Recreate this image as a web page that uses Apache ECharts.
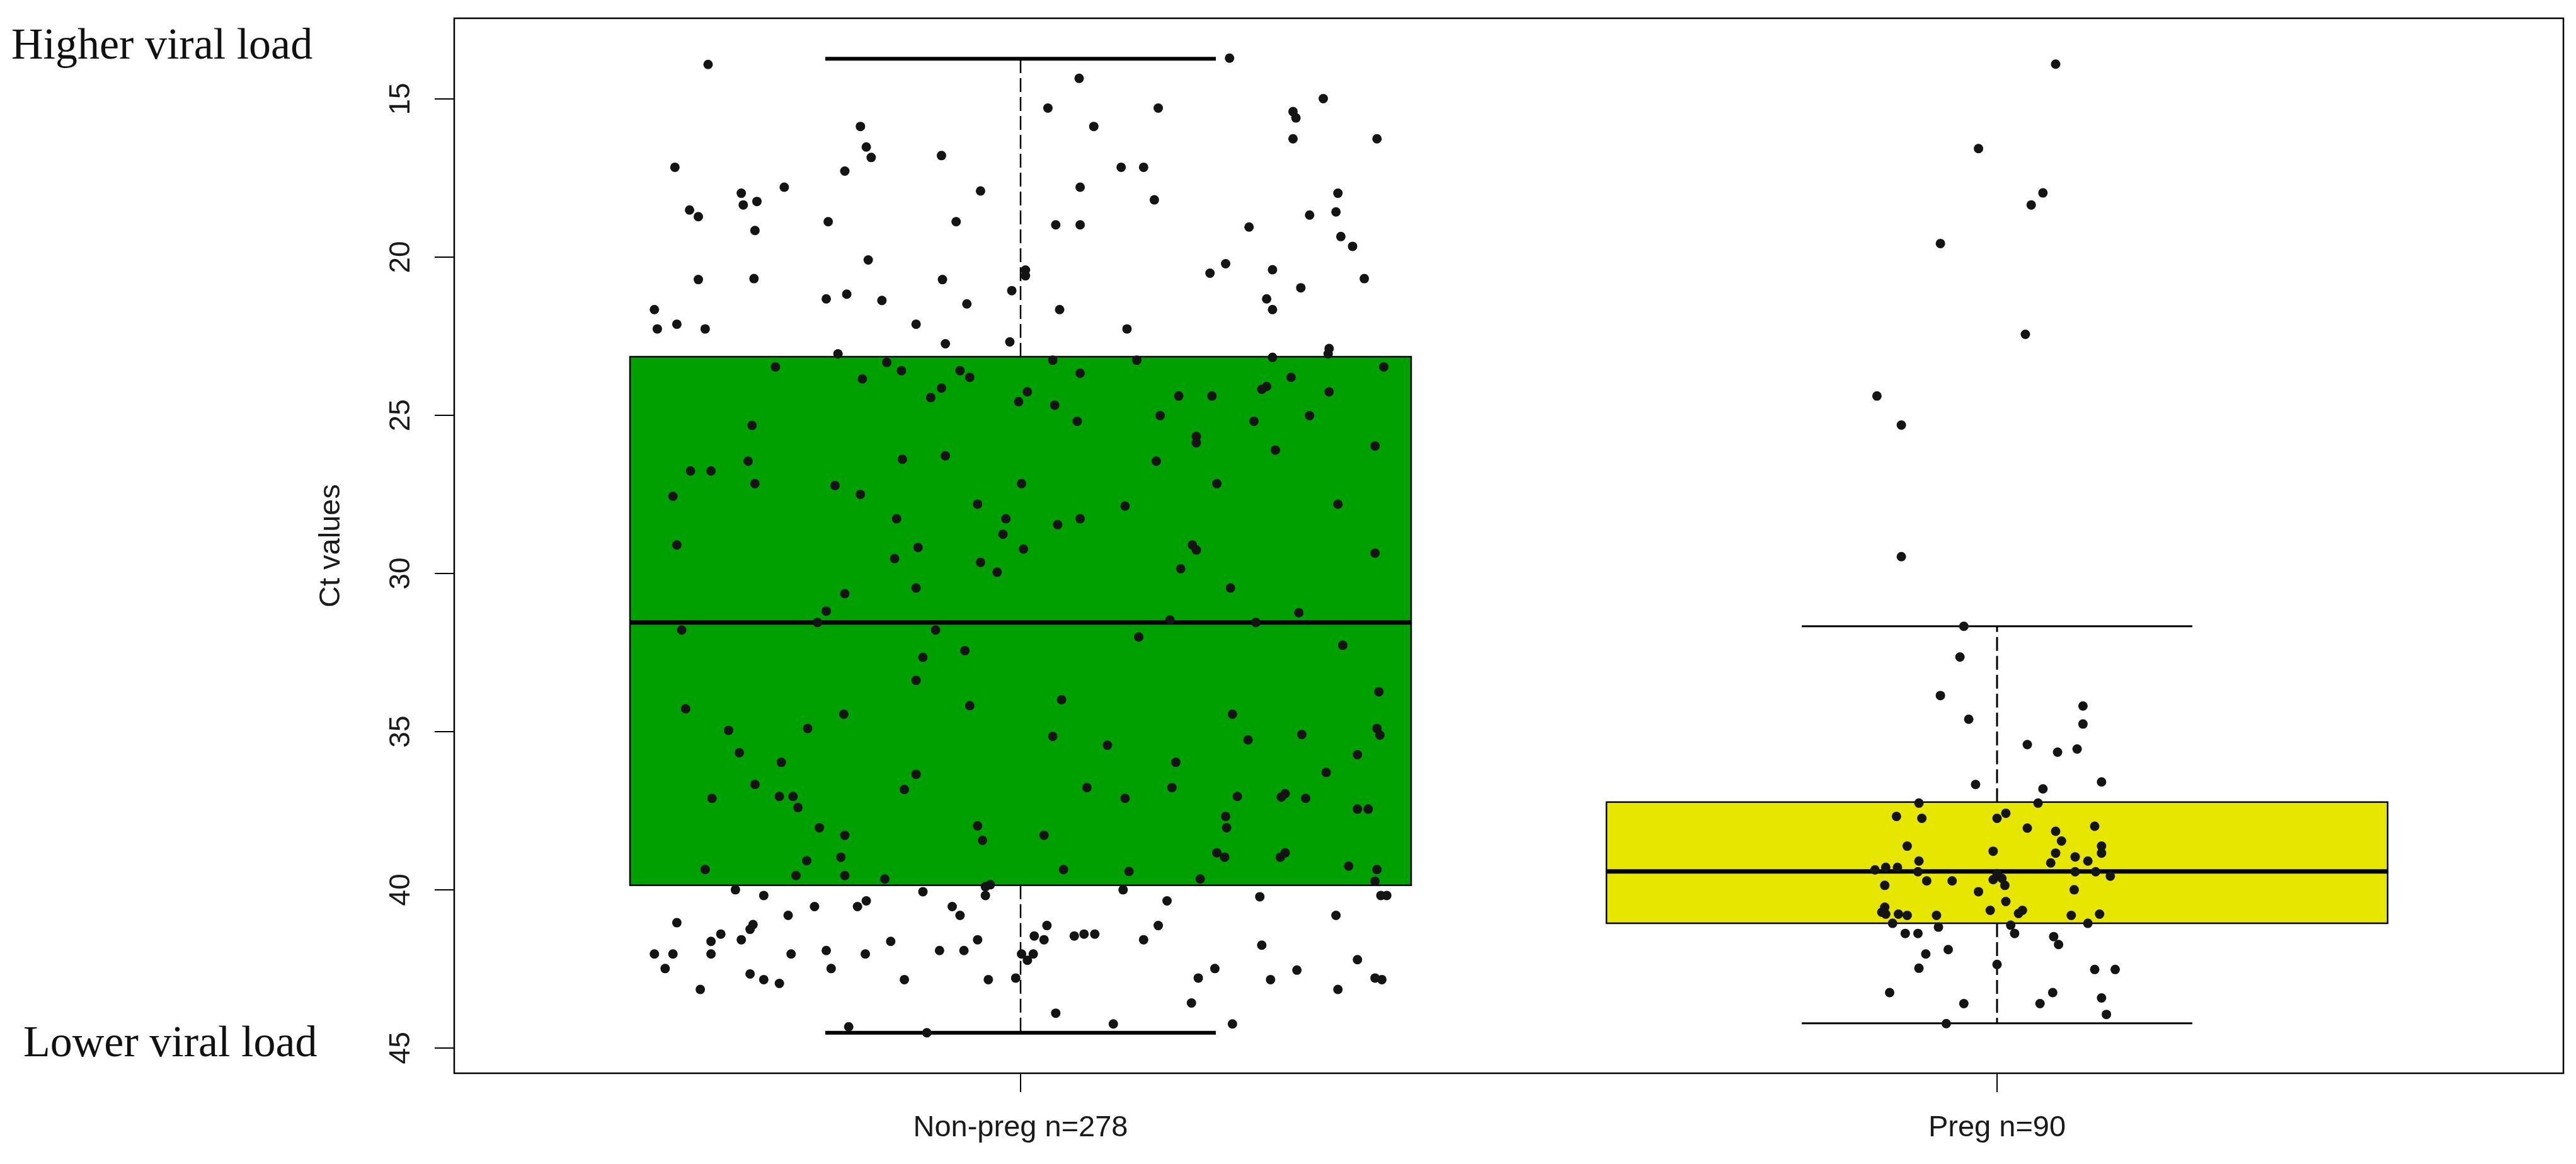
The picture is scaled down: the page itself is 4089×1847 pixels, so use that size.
<!DOCTYPE html>
<html>
<head>
<meta charset="utf-8">
<script src="https://cdn.jsdelivr.net/npm/echarts@6/dist/echarts.min.js"></script>
<style>
  html, body { margin: 0; padding: 0; background: #ffffff; }
  #chart { width: 4089px; height: 1847px; }
</style>
</head>
<body>
<div id="chart"></div>
<script>
// ---------------- DATA ----------------
const categories = ['Non-preg n=278', 'Preg n=90'];
const groupPositions = [1, 2];
const yTickValues = [15, 20, 25, 30, 35, 40, 45];

// box statistics (Ct values): lower whisker end (top), Q1, median, Q3, upper whisker end (bottom)
const whiskerLow = [13.73, 31.67];
const quartile1 = [23.15, 37.23];
const medians = [31.55, 39.42];
const quartile3 = [39.86, 41.06];
const whiskerHigh = [44.52, 44.22];

// individual jittered points: Ct value and horizontal jitter (in group units)
const nonPregCt = [
13.91,13.71,14.35,15.29,15.29,14.99,15.40,15.60,15.87,15.87,
16.26,16.26,16.52,16.85,16.79,17.16,17.28,17.16,17.16,17.79,
17.91,17.79,17.98,18.24,18.35,18.19,17.98,18.51,18.72,18.67,
18.57,18.88,18.88,18.98,18.98,19.05,19.16,19.35,19.66,20.09,
20.21,20.41,20.59,20.51,20.40,20.71,20.68,20.71,20.68,21.06,
20.97,21.17,21.32,21.37,21.48,21.32,21.66,21.66,21.66,22.12,
22.27,22.27,22.12,22.27,22.74,22.68,23.06,22.89,23.06,23.17,
23.26,23.26,23.47,23.47,23.33,23.59,23.59,23.80,23.85,23.67,
23.80,24.14,24.09,24.18,24.44,24.26,24.57,24.39,24.39,24.26,
24.68,25.01,25.01,25.19,25.19,25.32,25.67,25.87,25.97,26.10,
26.28,26.39,26.45,26.45,26.76,26.76,27.16,27.22,27.16,27.16,
27.56,27.50,27.81,27.87,27.81,28.27,28.27,28.46,28.27,28.76,
29.10,29.18,29.23,29.10,29.26,29.36,29.53,29.65,29.96,29.85,
30.46,30.46,30.64,31.19,31.24,31.55,31.47,31.55,31.79,31.79,
32.01,32.27,32.44,32.65,33.38,33.74,33.99,34.28,34.18,34.45,
34.45,34.96,34.90,34.90,35.11,35.15,35.26,35.09,35.43,35.67,
35.73,35.97,35.97,36.29,36.35,36.67,36.83,36.77,36.77,37.11,
37.05,37.05,37.40,37.11,37.05,36.96,37.07,37.11,37.45,37.45,
37.68,38.04,38.04,38.28,37.98,38.44,38.28,38.83,38.97,38.83,
38.97,39.08,38.97,39.36,39.36,39.42,39.25,39.36,39.55,39.55,
39.66,39.66,39.73,39.84,39.90,40.00,40.18,40.06,40.18,40.00,
40.22,40.18,40.18,40.53,40.53,40.35,40.53,40.35,40.81,40.81,
40.81,41.04,41.10,41.25,41.13,41.13,41.40,41.63,41.58,41.63,
41.58,41.46,41.58,41.46,41.40,41.40,41.58,41.75,42.03,42.03,
42.03,42.03,41.92,42.03,41.92,41.92,42.03,42.03,42.23,42.21,
42.49,42.49,42.49,42.54,42.66,42.84,42.96,42.84,42.84,42.79,
42.79,42.84,42.79,42.84,43.15,43.15,43.58,43.90,44.24,44.24,
44.33,44.52
];
const nonPregJitter = [
-0.320,0.214,0.060,0.028,0.141,0.310,0.279,0.282,-0.164,0.075,
0.279,0.365,-0.158,-0.153,-0.081,-0.354,-0.180,0.103,0.126,-0.242,
-0.041,0.061,-0.286,-0.270,-0.284,0.137,0.325,-0.339,-0.330,0.296,
0.323,-0.197,-0.066,0.036,0.061,0.234,-0.272,0.328,0.340,-0.156,
0.210,0.005,0.005,0.194,0.258,-0.330,-0.273,-0.080,0.352,-0.009,
0.287,-0.178,-0.199,-0.142,-0.055,0.252,0.258,-0.375,0.040,-0.352,
-0.372,-0.323,-0.107,0.109,-0.077,-0.011,-0.187,0.316,0.315,0.258,
0.033,0.119,-0.251,0.372,-0.137,-0.122,-0.062,-0.052,-0.162,0.061,
0.277,-0.081,0.252,0.247,-0.092,0.007,-0.002,0.162,0.196,0.316,
0.035,0.143,0.296,0.058,0.239,-0.275,0.180,0.180,0.363,0.261,
-0.077,-0.121,-0.279,0.139,-0.338,-0.317,-0.272,-0.190,0.001,0.201,
-0.356,-0.164,-0.044,0.107,0.325,-0.127,-0.015,0.038,0.061,-0.018,
-0.352,-0.105,0.003,0.176,0.180,0.363,-0.129,-0.041,-0.024,0.164,
-0.107,0.215,-0.180,-0.199,0.285,-0.208,0.153,0.241,-0.347,-0.087,
0.121,0.330,-0.057,-0.100,-0.107,0.367,0.042,-0.343,-0.052,-0.181,
0.217,-0.299,-0.218,0.365,0.368,0.033,0.233,0.288,0.089,-0.288,
0.345,-0.245,0.159,0.313,-0.107,-0.272,-0.119,0.068,0.155,-0.316,
-0.247,-0.233,-0.228,0.107,0.222,0.271,0.267,0.292,0.345,0.356,
0.210,0.211,-0.206,-0.180,-0.044,-0.039,0.024,0.201,0.209,0.271,
0.266,-0.219,-0.184,-0.323,0.044,0.111,0.336,0.365,-0.230,-0.180,
-0.139,0.184,0.363,-0.031,-0.036,-0.292,-0.263,-0.100,-0.036,0.105,
0.245,0.369,0.375,-0.211,-0.167,-0.158,-0.070,0.150,-0.238,-0.062,
0.323,-0.352,-0.274,-0.277,0.027,0.141,-0.307,-0.317,-0.286,-0.133,
-0.044,0.014,0.024,0.055,0.065,0.076,0.126,0.247,-0.375,-0.356,
-0.317,-0.235,-0.199,-0.159,-0.083,-0.058,0.001,0.013,0.007,0.345,
-0.364,-0.194,0.199,0.283,-0.277,-0.263,-0.247,-0.119,-0.033,-0.005,
0.182,0.256,0.363,0.370,-0.328,0.325,0.175,0.036,0.095,0.217,
-0.176,-0.096
];
const pregCt = [
13.90,16.57,17.97,18.35,19.57,22.44,24.39,25.31,29.47,31.67,
32.64,33.86,34.61,34.19,34.76,35.41,35.65,35.55,36.67,36.81,
36.59,37.26,37.26,37.68,37.74,37.74,37.58,38.05,38.15,37.99,
38.46,38.62,38.78,38.62,38.84,38.84,38.96,39.09,39.15,39.09,
39.37,39.29,39.29,39.43,39.43,39.43,39.72,39.72,39.68,39.64,
39.57,39.86,39.86,40.06,40.00,40.37,40.55,40.77,40.77,40.81,
40.81,40.65,40.65,40.75,40.81,40.77,41.06,41.18,41.12,41.06,
41.38,41.38,41.38,41.48,41.73,42.03,41.89,42.36,42.48,42.52,
42.52,43.25,43.60,43.60,43.25,43.42,43.94,44.23,40.71,39.49
];
const pregJitter = [
0.060,-0.019,0.047,0.035,-0.058,0.029,-0.123,-0.098,-0.098,-0.034,
-0.038,-0.058,-0.029,0.088,0.088,0.031,0.062,0.082,-0.022,0.047,
0.107,-0.080,0.042,-0.103,-0.077,0.000,0.009,0.031,0.060,0.100,
0.066,-0.092,-0.004,0.107,0.107,0.060,0.080,-0.080,0.055,0.093,
-0.125,-0.114,-0.102,-0.081,0.080,0.101,-0.072,-0.046,-0.004,0.005,
0.116,-0.115,0.008,-0.019,0.079,0.009,-0.115,-0.114,-0.101,-0.092,
-0.062,-0.007,0.026,0.022,0.076,0.105,-0.107,-0.060,0.014,0.093,
-0.094,-0.081,0.018,0.058,0.063,-0.073,-0.050,0.000,-0.080,0.100,
0.121,-0.110,-0.034,0.044,0.057,0.107,0.112,-0.052,-0.118,0.000
];

// ---------------- STYLE ----------------
const boxColors = ['#00a000', '#e6e600'];
const capWidths = [6, 3];
const whiskerWidths = [2.5, 3];
const BOX_WEX = 0.8;      // box width in group units (R default)
const STAPLE_WEX = 0.5;   // cap width relative to box
const SANS = "'Liberation Sans', Arial, sans-serif";
const SERIF = "'Liberation Serif', 'Times New Roman', serif";

// ---------------- BUILD ----------------
const boxData = groupPositions.map((p, i) => [p, whiskerLow[i], quartile1[i], medians[i], quartile3[i], whiskerHigh[i]]);
const pointData = nonPregCt.map((v, i) => [groupPositions[0] + nonPregJitter[i], v])
  .concat(pregCt.map((v, i) => [groupPositions[1] + pregJitter[i], v]));

const chart = echarts.init(document.getElementById('chart'), null, { renderer: 'canvas' });

chart.setOption({
  animation: false,
  backgroundColor: '#ffffff',
  grid: {
    left: 721, right: 20, top: 29, bottom: 144,
    show: true, borderColor: '#000000', borderWidth: 2.5, backgroundColor: 'transparent'
  },
  xAxis: {
    type: 'value',
    min: 0.42, max: 2.58,
    axisLine: { show: false },
    splitLine: { show: false },
    axisTick: {
      show: true, inside: false, length: 30,
      customValues: groupPositions,
      lineStyle: { color: '#000000', width: 2 }
    },
    axisLabel: {
      show: true, margin: 64,
      customValues: groupPositions,
      formatter: function (v) {
        const i = groupPositions.indexOf(Math.round(v));
        return i >= 0 ? categories[i] : '';
      },
      fontFamily: SANS, fontSize: 47, color: '#1a1a1a'
    }
  },
  yAxis: {
    type: 'value',
    inverse: true,
    min: 12.45, max: 45.8,
    name: 'Ct values',
    nameLocation: 'middle',
    nameGap: 171,
    nameTextStyle: { fontFamily: SANS, fontSize: 47, color: '#1a1a1a' },
    axisLine: { show: false },
    splitLine: { show: false },
    axisTick: {
      show: true, inside: false, length: 31,
      customValues: yTickValues,
      lineStyle: { color: '#000000', width: 2 }
    },
    axisLabel: {
      show: true, rotate: 90, margin: 61,
      customValues: yTickValues,
      fontFamily: SANS, fontSize: 46, color: '#1a1a1a'
    }
  },
  graphic: [
    {
      type: 'text', x: 18, y: 75, z: 100,
      style: {
        text: 'Higher viral load', fontFamily: SERIF, fontSize: 70, fill: '#111111',
        align: 'left', verticalAlign: 'middle', textAlign: 'left', textVerticalAlign: 'middle'
      }
    },
    {
      type: 'text', x: 37, y: 1658, z: 100,
      style: {
        text: 'Lower viral load', fontFamily: SERIF, fontSize: 70, fill: '#111111',
        align: 'left', verticalAlign: 'middle', textAlign: 'left', textVerticalAlign: 'middle'
      }
    }
  ],
  series: [
    {
      type: 'custom',
      z: 2,
      data: boxData,
      encode: { x: 0, y: [1, 2, 3, 4, 5] },
      renderItem: function (params, api) {
        const i = params.dataIndex;
        const x = api.value(0);
        const pLo = api.coord([x, api.value(1)]);
        const pQ1 = api.coord([x, api.value(2)]);
        const pMed = api.coord([x, api.value(3)]);
        const pQ3 = api.coord([x, api.value(4)]);
        const pHi = api.coord([x, api.value(5)]);
        const cx = pMed[0];
        const halfBox = api.size([BOX_WEX, 0])[0] / 2;
        const halfCap = halfBox * STAPLE_WEX;
        const dash = { stroke: '#000000', lineWidth: whiskerWidths[i], lineDash: [22, 8] };
        return {
          type: 'group',
          children: [
            { type: 'line', shape: { x1: cx, y1: pQ1[1], x2: cx, y2: pLo[1] }, style: dash },
            { type: 'line', shape: { x1: cx, y1: pQ3[1], x2: cx, y2: pHi[1] }, style: dash },
            { type: 'line', shape: { x1: cx - halfCap, y1: pLo[1], x2: cx + halfCap, y2: pLo[1] },
              style: { stroke: '#000000', lineWidth: capWidths[i] } },
            { type: 'line', shape: { x1: cx - halfCap, y1: pHi[1], x2: cx + halfCap, y2: pHi[1] },
              style: { stroke: '#000000', lineWidth: capWidths[i] } },
            { type: 'rect',
              shape: { x: cx - halfBox, y: Math.min(pQ1[1], pQ3[1]), width: 2 * halfBox, height: Math.abs(pQ3[1] - pQ1[1]) },
              style: { fill: boxColors[i], stroke: '#000000', lineWidth: 2.5 } },
            { type: 'line', shape: { x1: cx - halfBox, y1: pMed[1], x2: cx + halfBox, y2: pMed[1] },
              style: { stroke: '#000000', lineWidth: 7 } }
          ]
        };
      }
    },
    {
      type: 'scatter',
      z: 3,
      data: pointData,
      symbol: 'circle',
      symbolSize: 15,
      itemStyle: { color: '#141414', opacity: 1 }
    }
  ]
});
</script>
</body>
</html>
